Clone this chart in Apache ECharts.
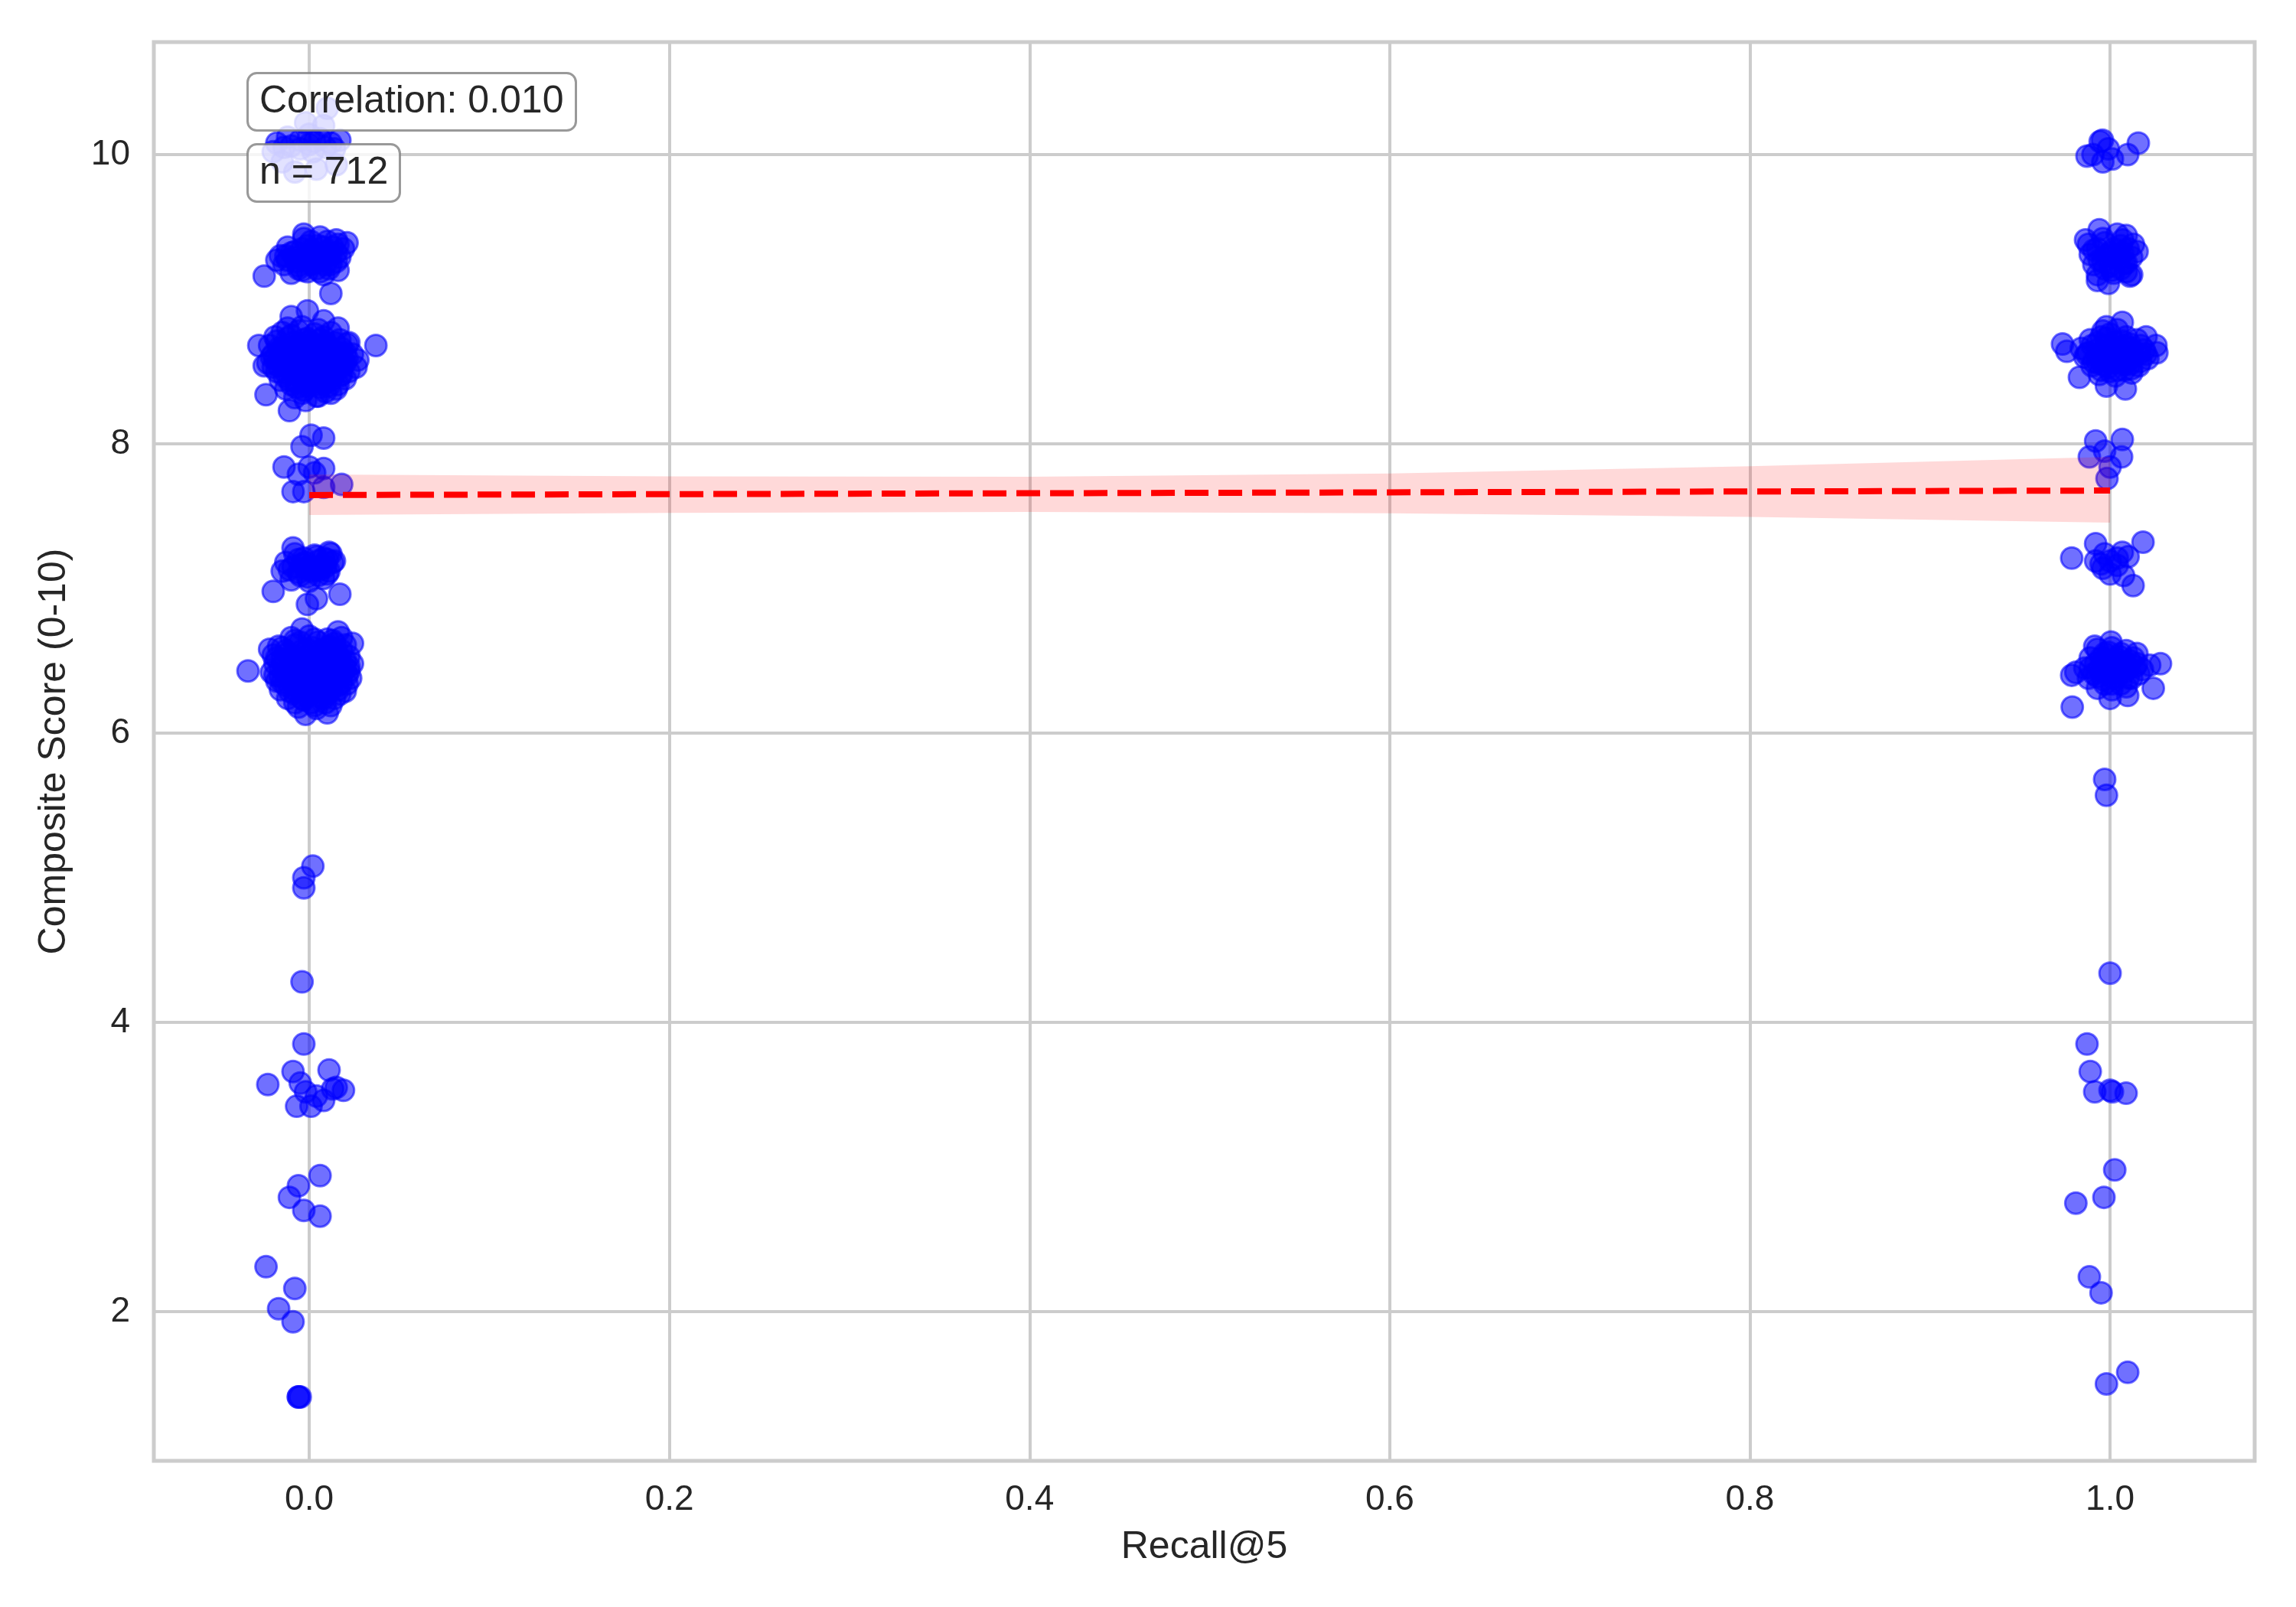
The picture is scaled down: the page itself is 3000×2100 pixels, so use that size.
<!DOCTYPE html>
<html>
<head>
<meta charset="utf-8">
<script src="https://cdn.jsdelivr.net/npm/echarts@6/dist/echarts.min.js"></script>
<style>
html,body{margin:0;padding:0;background:#fff;}
#chart{width:3000px;height:2100px;}
</style>
</head>
<body>
<div id="chart"></div>
<script>
// ---- data ----
// jittered points, Recall@5 = 0
const recall0Points = [
  [-0.018,10.08],[-0.012,10.12],[-0.005,10.10],[0.000,10.07],[0.006,10.11],[0.012,10.08],[0.017,10.10],[-0.015,9.95],
  [-0.008,9.88],[0.004,9.90],[0.010,10.32],[0.008,10.20],[-0.002,10.22],[0.015,9.93],[-0.020,10.02],[0.002,10.02],
  [-0.010,10.06],[0.003,10.09],[0.009,10.05],[-0.005,10.04],[0.014,10.04],[-0.014,10.05],[0.000,10.14],
  [-0.003,9.42],[0.006,9.43],[0.015,9.41],[-0.012,9.36],[-0.004,9.35],[0.005,9.37],[0.013,9.36],[0.019,9.35],
  [-0.016,9.30],[-0.008,9.29],[0.001,9.31],[0.010,9.30],[0.017,9.29],[-0.014,9.24],[-0.006,9.23],[0.003,9.25],
  [0.012,9.24],[-0.010,9.18],[-0.001,9.19],[0.008,9.17],[-0.025,9.16],[0.012,9.04],[-0.003,9.45],[0.021,9.39],
  [-0.018,9.27],[0.016,9.20],
  [0.001,9.40],[0.010,9.40],[-0.008,9.33],[0.001,9.34],[0.009,9.33],[0.015,9.32],[-0.012,9.27],[-0.002,9.27],
  [0.007,9.27],[0.015,9.26],[-0.006,9.21],[0.004,9.21],[0.011,9.21],[0.000,9.30],[0.005,9.28],
  [-0.010,9.32],[-0.001,9.37],[0.008,9.36],[0.016,9.38],[-0.013,9.30],[0.004,9.30],[0.012,9.31],[-0.007,9.26],
  [0.001,9.24],[0.009,9.24],[-0.004,9.20],[0.006,9.19],
  [-0.001,8.92],[-0.010,8.88],[0.008,8.85],[0.016,8.80],[-0.012,8.80],[-0.004,8.81],[0.005,8.79],
  [-0.019,8.74],[-0.010,8.75],[-0.001,8.73],[0.008,8.74],[0.017,8.72],
  [-0.022,8.68],[-0.014,8.67],[-0.005,8.69],[0.004,8.68],[0.012,8.66],[0.021,8.69],
  [-0.020,8.62],[-0.011,8.61],[-0.002,8.63],[0.007,8.62],[0.016,8.60],[0.024,8.62],
  [-0.023,8.56],[-0.015,8.55],[-0.006,8.57],[0.003,8.56],[0.011,8.54],[0.020,8.56],
  [-0.018,8.50],[-0.009,8.49],[0.000,8.51],[0.009,8.50],[0.018,8.48],[0.026,8.53],
  [-0.016,8.44],[-0.007,8.43],[0.002,8.45],[0.012,8.44],[0.020,8.45],
  [-0.013,8.38],[-0.003,8.37],[0.006,8.39],[0.015,8.38],[-0.008,8.32],[0.004,8.33],
  [0.037,8.68],[-0.028,8.68],[-0.025,8.54],[-0.024,8.34],[-0.011,8.23],[-0.002,8.30],[0.005,8.33],[0.012,8.35],
  [0.022,8.70],[0.027,8.58],
  [-0.015,8.77],[-0.006,8.78],[0.003,8.76],[0.012,8.77],
  [-0.018,8.71],[-0.009,8.70],[0.000,8.71],[0.009,8.70],[0.018,8.66],
  [-0.016,8.65],[-0.007,8.64],[0.002,8.65],[0.011,8.63],[0.020,8.63],
  [-0.019,8.59],[-0.010,8.58],[-0.001,8.60],[0.008,8.59],[0.017,8.57],
  [-0.020,8.53],[-0.011,8.52],[-0.002,8.54],[0.007,8.53],[0.015,8.51],[0.022,8.50],
  [-0.014,8.47],[-0.005,8.46],[0.004,8.48],[0.013,8.47],
  [-0.010,8.41],[-0.001,8.40],[0.008,8.42],[0.016,8.41],[-0.004,8.35],[0.009,8.36],
  [0.000,8.60],[0.004,8.55],[-0.004,8.65],[0.006,8.68],[-0.008,8.52],
  [-0.012,8.73],[-0.003,8.72],[0.006,8.72],[0.014,8.70],
  [-0.017,8.66],[-0.008,8.67],[0.001,8.68],[0.010,8.68],[0.018,8.62],
  [-0.021,8.60],[-0.013,8.61],[-0.004,8.60],[0.005,8.61],[0.013,8.58],[0.021,8.59],
  [-0.017,8.54],[-0.008,8.55],[0.001,8.56],[0.010,8.57],[0.018,8.53],
  [-0.013,8.49],[-0.004,8.49],[0.006,8.51],[0.014,8.50],
  [-0.011,8.44],[0.000,8.43],[0.009,8.45],[0.017,8.47],[-0.007,8.39],[0.003,8.41],[0.011,8.40],
  [0.001,8.06],[0.008,8.04],[-0.004,7.98],[-0.014,7.84],[0.000,7.84],[0.008,7.83],[0.018,7.72],[-0.009,7.67],
  [-0.003,7.67],[0.008,7.70],[0.003,7.80],[-0.006,7.79],
  [-0.008,7.24],[0.003,7.23],[0.012,7.24],[-0.013,7.18],[-0.004,7.17],[0.005,7.19],[0.013,7.18],
  [-0.015,7.12],[-0.006,7.11],[0.003,7.13],[0.011,7.12],[-0.010,7.06],[0.000,7.05],[0.008,7.07],
  [-0.020,6.98],[0.017,6.96],[-0.001,6.89],[0.004,6.93],[-0.009,7.28],[0.011,7.25],[0.014,7.19],
  [-0.003,7.21],[0.008,7.21],[-0.009,7.15],[0.000,7.15],[0.009,7.15],[-0.005,7.09],[0.005,7.09],[0.001,7.12],
  [-0.002,7.18],[0.006,7.13],
  [-0.011,7.13],[-0.002,7.14],[0.007,7.16],[-0.006,7.20],[0.004,7.22],[0.010,7.20],[-0.001,7.08],[0.010,7.10],
  [-0.010,6.66],[0.000,6.67],[0.010,6.65],[0.018,6.66],
  [-0.017,6.60],[-0.008,6.61],[0.002,6.59],[0.011,6.60],[0.020,6.61],
  [-0.020,6.54],[-0.012,6.55],[-0.003,6.53],[0.006,6.54],[0.015,6.55],[0.022,6.53],
  [-0.019,6.48],[-0.010,6.47],[-0.001,6.49],[0.008,6.48],[0.017,6.47],[0.024,6.48],
  [-0.021,6.42],[-0.013,6.41],[-0.004,6.43],[0.005,6.42],[0.014,6.41],[0.022,6.43],
  [-0.018,6.36],[-0.009,6.35],[0.000,6.37],[0.009,6.36],[0.018,6.35],[0.023,6.38],
  [-0.016,6.30],[-0.007,6.29],[0.003,6.31],[0.012,6.30],[0.020,6.29],
  [-0.012,6.24],[-0.003,6.23],[0.006,6.25],[0.014,6.24],
  [-0.006,6.18],[0.004,6.17],[0.012,6.19],[-0.002,6.13],[0.010,6.14],
  [-0.034,6.43],[0.024,6.62],[-0.022,6.58],[0.016,6.70],[-0.004,6.72],
  [-0.005,6.63],[0.005,6.63],[0.014,6.62],
  [-0.013,6.57],[-0.004,6.57],[0.006,6.57],[0.015,6.58],
  [-0.015,6.51],[-0.006,6.51],[0.003,6.51],[0.012,6.51],[0.020,6.50],
  [-0.016,6.45],[-0.007,6.45],[0.003,6.45],[0.012,6.45],[0.020,6.45],
  [-0.016,6.39],[-0.005,6.39],[0.004,6.39],[0.013,6.39],[0.021,6.40],
  [-0.013,6.33],[-0.003,6.33],[0.007,6.33],[0.016,6.33],
  [-0.008,6.27],[0.001,6.27],[0.010,6.27],[0.017,6.27],
  [-0.008,6.21],[0.001,6.21],[0.009,6.21],
  [0.000,6.45],[0.005,6.50],[-0.003,6.40],[0.008,6.42],[-0.010,6.50],
  [-0.008,6.64],[0.003,6.65],[0.013,6.64],
  [-0.015,6.59],[-0.001,6.58],[0.009,6.58],[0.018,6.57],
  [-0.018,6.52],[-0.009,6.52],[0.000,6.53],[0.009,6.52],[0.017,6.51],
  [-0.014,6.47],[-0.004,6.46],[0.006,6.47],[0.015,6.46],[0.022,6.46],
  [-0.019,6.40],[-0.010,6.40],[0.001,6.41],[0.010,6.40],[0.018,6.41],
  [-0.015,6.35],[-0.006,6.34],[0.004,6.35],[0.013,6.35],[0.021,6.34],
  [-0.011,6.29],[-0.001,6.29],[0.008,6.29],[0.016,6.30],[-0.004,6.24],[0.008,6.24],[0.003,6.19],
  [0.002,5.08],[-0.003,5.00],[-0.003,4.93],[-0.004,4.28],[-0.003,3.85],
  [-0.023,3.57],[-0.009,3.66],[0.011,3.67],[0.019,3.53],[0.015,3.55],[-0.007,3.42],[0.001,3.42],[0.008,3.46],
  [-0.005,3.58],[-0.002,3.52],[0.004,3.49],[0.013,3.54],
  [0.006,2.94],[-0.006,2.87],[-0.011,2.79],[-0.003,2.70],[0.006,2.66],
  [-0.024,2.31],[-0.008,2.16],[-0.017,2.02],[-0.009,1.93],
  [-0.006,1.41],[-0.006,1.41],[-0.005,1.41]
];
// jittered points, Recall@5 = 1
const recall1Points = [
  [0.9958,10.10],[0.9945,10.09],[0.9872,9.99],[0.9905,10.00],[0.996,9.95],[1.0013,9.97],[1.0098,10.00],[1.0157,10.08],[0.999,10.04],
  [0.994,9.48],[1.004,9.45],[1.009,9.44],[0.988,9.38],[0.997,9.39],[1.006,9.37],[1.013,9.38],
  [0.989,9.31],[0.998,9.30],[1.007,9.32],[1.015,9.33],[0.991,9.24],[1.000,9.23],[1.009,9.25],
  [0.993,9.17],[1.002,9.18],[1.011,9.16],[0.9864,9.41],[0.993,9.13],[0.9991,9.11],[1.012,9.17],
  [0.993,9.35],[1.002,9.35],[1.010,9.35],[0.994,9.27],[1.004,9.28],[1.012,9.29],[0.997,9.21],[1.006,9.21],[1.000,9.32],
  [0.996,9.42],[1.007,9.41],[0.991,9.34],[1.005,9.31],[0.996,9.26],[1.008,9.25],[1.001,9.20],[1.009,9.19],
  [0.996,8.78],[1.004,8.79],[0.989,8.72],[0.998,8.73],[1.007,8.71],[1.015,8.72],
  [0.984,8.66],[0.993,8.65],[1.002,8.67],[1.011,8.66],[1.019,8.65],
  [0.986,8.60],[0.995,8.59],[1.004,8.61],[1.013,8.60],[1.021,8.59],
  [0.990,8.54],[0.999,8.53],[1.008,8.55],[1.016,8.54],[0.994,8.48],[1.003,8.47],[1.012,8.49],
  [0.9736,8.69],[0.976,8.64],[1.0255,8.68],[1.026,8.63],[0.983,8.46],[1.0085,8.38],[0.998,8.40],[1.0068,8.84],[0.998,8.81],[1.020,8.74],
  [1.000,8.76],[0.993,8.70],[1.003,8.70],[1.011,8.69],[0.988,8.63],[0.998,8.63],[1.007,8.63],[1.016,8.62],
  [0.991,8.57],[1.000,8.57],[1.009,8.57],[1.017,8.57],[0.995,8.51],[1.004,8.51],[1.012,8.52],[1.000,8.60],[1.005,8.65],[0.996,8.55],
  [0.995,8.74],[1.009,8.74],[0.990,8.68],[0.998,8.68],[1.008,8.68],[1.017,8.68],[0.987,8.62],[0.996,8.62],
  [1.003,8.64],[1.012,8.63],[1.020,8.62],[0.993,8.56],[1.002,8.56],[1.011,8.55],[1.000,8.50],[1.008,8.51],
  [0.992,8.02],[1.0068,8.03],[0.9885,7.91],[1.0064,7.91],[1.0,7.84],[0.9983,7.76],[0.997,7.95],
  [0.9787,7.21],[1.0183,7.32],[1.0128,7.02],[0.992,7.31],[1.0,7.10],[1.0068,7.25],[0.992,7.19],[1.004,7.16],
  [1.010,7.22],[0.997,7.24],[1.0075,7.09],[0.996,7.14],[1.000,7.19],[1.004,7.21],[0.995,7.17],
  [0.993,6.58],[1.001,6.59],[1.009,6.57],[0.989,6.52],[0.997,6.51],[1.005,6.53],[1.013,6.52],
  [0.986,6.45],[0.994,6.44],[1.002,6.46],[1.010,6.45],[1.018,6.44],
  [0.988,6.38],[0.996,6.37],[1.004,6.39],[1.012,6.38],[0.993,6.31],[1.001,6.30],[1.009,6.32],
  [0.979,6.18],[1.024,6.31],[1.028,6.48],[1.0005,6.63],[0.9915,6.60],[0.9787,6.40],[1.0149,6.55],[1.0098,6.26],
  [1.0,6.24],[1.022,6.47],[0.981,6.42],
  [0.997,6.55],[1.006,6.55],[0.992,6.48],[1.000,6.49],[1.008,6.49],[1.015,6.48],[0.991,6.41],[1.000,6.42],
  [1.008,6.42],[1.016,6.41],[0.997,6.34],[1.006,6.34],[1.002,6.44],
  [0.995,6.52],[1.004,6.51],[1.011,6.50],[0.989,6.45],[0.997,6.46],[1.006,6.45],[1.014,6.46],[0.993,6.39],
  [1.002,6.38],[1.010,6.38],[1.001,6.34],[0.999,6.56],
  [0.997,5.68],[0.998,5.57],[1.0,4.34],[0.9872,3.85],[0.989,3.66],[0.9915,3.52],[1.0013,3.52],[1.0089,3.51],[1.0,3.53],
  [1.0026,2.98],[0.981,2.75],[0.9966,2.79],[0.9885,2.24],[0.995,2.13],[1.0098,1.58],[0.998,1.50]
];
// regression fit and confidence band
const fitX = [0, 1];
const fitY = [7.646, 7.677];
const ciX = [0, 0.2, 0.4, 0.6, 0.8, 1.0];
const ciLower = [7.508, 7.522, 7.529, 7.520, 7.495, 7.455];
const ciUpper = [7.788, 7.775, 7.773, 7.795, 7.845, 7.910];
// annotations
const correlationValue = 0.010;
const sampleCount = 712;
const xAxisName = 'Recall@5';
const yAxisName = 'Composite Score (0-10)';

// ---- chart ----
const FONT = '"Liberation Sans", Arial, sans-serif';
const TEXT = '#262626';
const chart = echarts.init(document.getElementById('chart'), null, {renderer: 'canvas'});

const pointStyle = {
  color: 'rgba(0,0,255,0.7)',
  borderColor: 'rgba(0,0,255,0.7)',
  borderWidth: 3
};
const boxStyle = {
  backgroundColor: 'rgba(255,255,255,0.8)',
  borderColor: 'rgba(128,128,128,0.8)',
  borderWidth: 3,
  borderRadius: 12,
  padding: [10, 16],
  textStyle: {fontSize: 50, fontWeight: 'normal', color: TEXT, fontFamily: FONT, lineHeight: 56}
};

chart.setOption({
  animation: false,
  backgroundColor: '#ffffff',
  textStyle: {fontFamily: FONT},
  title: [
    Object.assign({text: 'Correlation: ' + correlationValue.toFixed(3), left: 323, top: 95}, boxStyle),
    Object.assign({text: 'n = ' + sampleCount, left: 323, top: 188}, boxStyle)
  ],
  grid: {
    left: 201, right: 54, top: 55, bottom: 191,
    show: true, borderColor: '#cccccc', borderWidth: 5, backgroundColor: 'transparent'
  },
  xAxis: {
    type: 'value',
    min: -0.0863, max: 1.0803,
    minInterval: 0.2, maxInterval: 0.2,
    name: xAxisName, nameLocation: 'middle', nameGap: 88,
    nameTextStyle: {fontSize: 50, color: TEXT, fontFamily: FONT},
    axisLine: {show: false}, axisTick: {show: false},
    axisLabel: {fontSize: 46, color: TEXT, fontFamily: FONT, margin: 28,
      showMinLabel: false, showMaxLabel: false,
      formatter: v => v.toFixed(1)},
    splitLine: {show: true, lineStyle: {color: '#cccccc', width: 4}}
  },
  yAxis: {
    type: 'value',
    min: 0.968, max: 10.778,
    minInterval: 2, maxInterval: 2,
    name: yAxisName, nameLocation: 'middle', nameGap: 105, nameRotate: 90,
    nameTextStyle: {fontSize: 50, color: TEXT, fontFamily: FONT},
    axisLine: {show: false}, axisTick: {show: false},
    axisLabel: {fontSize: 46, color: TEXT, fontFamily: FONT, margin: 31,
      showMinLabel: false, showMaxLabel: false,
      formatter: v => String(Math.round(v))},
    splitLine: {show: true, lineStyle: {color: '#cccccc', width: 4}}
  },
  series: [
    {type: 'scatter', data: recall0Points, symbol: 'circle', symbolSize: 28, itemStyle: pointStyle, z: 2, silent: true},
    {type: 'scatter', data: recall1Points, symbol: 'circle', symbolSize: 28, itemStyle: pointStyle, z: 2, silent: true},
    {
      type: 'custom', z: 3, silent: true,
      data: ciX.map((x, i) => [x, ciLower[i], ciUpper[i]]),
      encode: {x: 0, y: [1, 2]},
      renderItem: function (params, api) {
        if (params.dataIndex !== 0) return null;
        const pts = [];
        for (let i = 0; i < ciX.length; i++) pts.push(api.coord([ciX[i], ciUpper[i]]));
        for (let i = ciX.length - 1; i >= 0; i--) pts.push(api.coord([ciX[i], ciLower[i]]));
        return {type: 'polygon', shape: {points: pts}, style: {fill: 'rgba(255,0,0,0.15)', stroke: null}};
      }
    },
    {
      type: 'line', z: 4, silent: true,
      data: fitX.map((x, i) => [x, fitY[i]]),
      showSymbol: false, symbol: 'none',
      lineStyle: {color: '#ff0000', width: 8, type: [31, 13], cap: 'butt'}
    }
  ]
});
</script>
</body>
</html>
